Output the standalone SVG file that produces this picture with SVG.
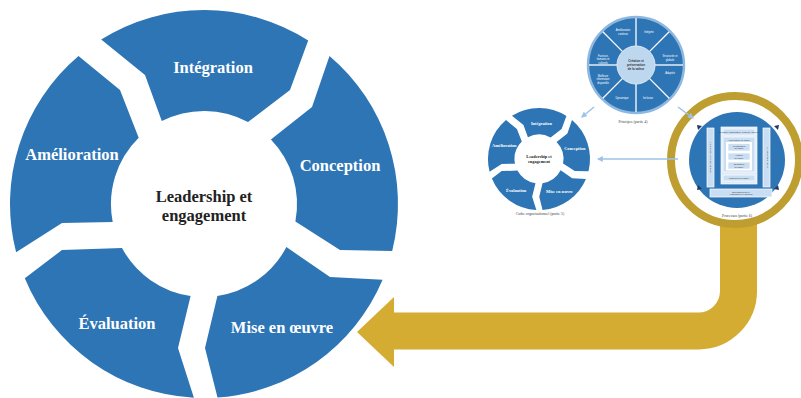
<svg xmlns="http://www.w3.org/2000/svg" width="801" height="398" viewBox="0 0 801 398">
<defs>
<style>
.seg{fill:#2E75B6}
.lbl{font-family:"Liberation Serif",serif;font-weight:bold;font-size:16.5px;fill:#fff;text-anchor:middle}
.ctr{font-family:"Liberation Serif",serif;font-weight:bold;font-size:16.5px;fill:#222;text-anchor:middle}
.tw{font-family:"Liberation Sans",sans-serif;font-size:2.6px;fill:#fff;text-anchor:middle}
.td{font-family:"Liberation Sans",sans-serif;font-size:2.2px;fill:#333;text-anchor:middle}
.cap{font-family:"Liberation Serif",serif;font-size:3.8px;fill:#444;text-anchor:middle}
.box{fill:#C9DEF2;stroke:#fff;stroke-width:0.7}
.div{stroke:#fff;stroke-width:1.3}
.conn{stroke:#9DC3E6;stroke-width:1.5;fill:none;marker-end:url(#ah)}
.mark{fill:#1F3864}
</style>
<marker id="ah" viewBox="0 0 10 10" refX="8" refY="5" markerWidth="4" markerHeight="4" orient="auto">
<path d="M0,0 L10,5 L0,10 Z" fill="#9DC3E6"/>
</marker>
</defs>
<rect width="801" height="398" fill="#fff"/>

<!-- Gold return arrow -->
<g id="gold-arrow">
<path d="M738.5,221 V291 A40,40 0 0 1 698.5,331 H392" fill="none" stroke="#D3AC31" stroke-width="37"/>
<polygon points="394,297 357,332 394,367" fill="#D3AC31"/>
</g>

<!-- Processus (highlighted) -->
<g id="processus">
<circle cx="735" cy="160" r="64" fill="#fff" stroke="#BE9E30" stroke-width="8"/>
<circle cx="737" cy="160" r="48" fill="#2E75B6"/>
<rect class="box" x="707" y="128" width="7" height="59"/>
<text class="td" transform="translate(711.3,157.5) rotate(-90)">Communication et consultation</text>
<rect class="box" x="763" y="128" width="7" height="59"/>
<text class="td" transform="translate(767.3,157.5) rotate(90)">Surveillance et revue</text>
<rect x="721" y="127" width="36" height="57" fill="#DEEBF7" stroke="#fff" stroke-width="0.7"/>
<rect class="box" x="723" y="129" width="32" height="6"/>
<text class="td" x="739" y="132.8">Domaine d'application, contexte, critères</text>
<rect class="box" x="723" y="137" width="32" height="35"/>
<text class="td" x="739" y="140.5">Appréciation du risque</text>
<rect x="726" y="142" width="26" height="28.5" fill="#fff"/>
<rect class="box" x="728" y="143.5" width="22" height="7.5"/>
<text class="td" x="739" y="146.8">Identification</text>
<text class="td" x="739" y="149.4">du risque</text>
<rect class="box" x="728" y="153" width="22" height="7"/>
<text class="td" x="739" y="156">Analyse</text>
<text class="td" x="739" y="158.6">du risque</text>
<rect class="box" x="728" y="162" width="22" height="7"/>
<text class="td" x="739" y="165">Évaluation</text>
<text class="td" x="739" y="167.6">du risque</text>
<rect class="box" x="723" y="175" width="32" height="6"/>
<text class="td" x="739" y="178.8">Traitement du risque</text>
<rect class="box" x="710" y="189" width="62" height="8"/>
<text class="td" x="741" y="192.5">Enregistrement et</text>
<text class="td" x="741" y="195.3">élaboration de rapports</text>
<polygon class="mark" points="697,125 702,126 698,130"/>
<polygon class="mark" points="779,125 774,126 778,130"/>
<polygon class="mark" points="697,190 702,189 698,185"/>
<polygon class="mark" points="779,190 774,189 778,185"/>
<text class="cap" x="737" y="217">Processus (partie 6)</text>
</g>

<!-- Principes -->
<g id="principes">
<circle cx="636" cy="65" r="48" fill="#2E75B6" stroke="#8FB8E0" stroke-width="2.5"/>
<line class="div" x1="655" y1="65" x2="683" y2="65"/>
<line class="div" x1="649.4" y1="78.4" x2="669.2" y2="98.2"/>
<line class="div" x1="636" y1="84" x2="636" y2="112"/>
<line class="div" x1="622.6" y1="78.4" x2="602.8" y2="98.2"/>
<line class="div" x1="617" y1="65" x2="589" y2="65"/>
<line class="div" x1="622.6" y1="51.6" x2="602.8" y2="31.8"/>
<line class="div" x1="636" y1="46" x2="636" y2="18"/>
<line class="div" x1="649.4" y1="51.6" x2="669.2" y2="31.8"/>
<circle cx="636" cy="65" r="19" fill="#BDD7EE" stroke="#DEEBF7" stroke-width="1"/>
<text class="td" x="636" y="61.5" style="font-size:3px;font-weight:bold">Création et</text>
<text class="td" x="636" y="65.5" style="font-size:3px;font-weight:bold">préservation</text>
<text class="td" x="636" y="69.5" style="font-size:3px;font-weight:bold">de la valeur</text>
<text class="tw" x="623" y="31">Amélioration</text>
<text class="tw" x="623" y="34.5">continue</text>
<text class="tw" x="649" y="33">Intégrée</text>
<text class="tw" x="670" y="57">Structurée et</text>
<text class="tw" x="670" y="60.5">globale</text>
<text class="tw" x="670" y="74">Adaptée</text>
<text class="tw" x="648" y="99">Inclusive</text>
<text class="tw" x="622" y="99">Dynamique</text>
<text class="tw" x="603" y="76.5">Meilleure</text>
<text class="tw" x="603" y="80">information</text>
<text class="tw" x="603" y="83.5">disponible</text>
<text class="tw" x="603" y="56.5">Facteurs</text>
<text class="tw" x="603" y="60">humains et</text>
<text class="tw" x="603" y="63.5">culturels</text>
<text class="cap" x="633" y="123">Principes (partie 4)</text>
</g>

<!-- Cadre organisationnel (small copy of the cycle) -->
<g id="cadre">
<g transform="translate(539,159) scale(0.263) translate(-204,-204)">
<path class="seg" d="M101.2,39.5 A194,194 0 0 1 308.2,40.4 L290,90 L248,122 A93,93 0 0 0 161.8,121.1 L145,75 Z"/>
<path class="seg" d="M329.5,56 L312,107 L270.9,139.4 A93,93 0 0 1 295.4,221.4 L340,250 L392.2,250.9 A194,194 0 0 0 329.5,56 Z"/>
<path class="seg" d="M286.4,247.1 L330,277 L382.6,279.8 A194,194 0 0 1 217.5,397.5 L205,348 L217.4,296 A93,93 0 0 0 286.4,247.1 Z"/>
<path class="seg" d="M190.6,296 L178,348 L193.9,397.7 A194,194 0 0 1 24.8,278.2 L62,250 L122,248 A93,93 0 0 0 190.6,296 Z"/>
<path class="seg" d="M16.1,252.2 L62,223 L112.7,221.9 A93,93 0 0 1 138.7,137.8 L120,90 L78.5,56 A194,194 0 0 0 16.1,252.2 Z"/>
<text class="lbl" x="213" y="73">Intégration</text>
<text class="lbl" x="340" y="171">Conception</text>
<text class="lbl" x="282" y="333">Mise en œuvre</text>
<text class="lbl" x="117" y="329">Évaluation</text>
<text class="lbl" x="72" y="160">Amélioration</text>
<text class="ctr" x="204" y="202">Leadership et</text>
<text class="ctr" x="204" y="221">engagement</text>
</g>
<text class="cap" x="540" y="215">Cadre organisationnel (partie 5)</text>
</g>

<!-- Main cycle -->
<g id="integration">
<path class="seg" d="M101.2,39.5 A194,194 0 0 1 308.2,40.4 L290,90 L248,122 A93,93 0 0 0 161.8,121.1 L145,75 Z"/>
<text class="lbl" x="213" y="73">Intégration</text>
</g>
<g id="conception">
<path class="seg" d="M329.5,56 L312,107 L270.9,139.4 A93,93 0 0 1 295.4,221.4 L340,250 L392.2,250.9 A194,194 0 0 0 329.5,56 Z"/>
<text class="lbl" x="340" y="171">Conception</text>
</g>
<g id="mise-en-oeuvre">
<path class="seg" d="M286.4,247.1 L330,277 L382.6,279.8 A194,194 0 0 1 217.5,397.5 L205,348 L217.4,296 A93,93 0 0 0 286.4,247.1 Z"/>
<text class="lbl" x="282" y="333">Mise en œuvre</text>
</g>
<g id="evaluation">
<path class="seg" d="M190.6,296 L178,348 L193.9,397.7 A194,194 0 0 1 24.8,278.2 L62,250 L122,248 A93,93 0 0 0 190.6,296 Z"/>
<text class="lbl" x="117" y="329">Évaluation</text>
</g>
<g id="amelioration">
<path class="seg" d="M16.1,252.2 L62,223 L112.7,221.9 A93,93 0 0 1 138.7,137.8 L120,90 L78.5,56 A194,194 0 0 0 16.1,252.2 Z"/>
<text class="lbl" x="72" y="160">Amélioration</text>
</g>
<g id="leadership">
<text class="ctr" x="204" y="202">Leadership et</text>
<text class="ctr" x="204" y="221">engagement</text>
</g>

<!-- Connectors -->
<g id="connectors">
<path class="conn" d="M594,107 L582,117"/>
<path class="conn" d="M678,107 L693,118"/>
<path class="conn" d="M678,159 L598,159"/>
</g>
</svg>
